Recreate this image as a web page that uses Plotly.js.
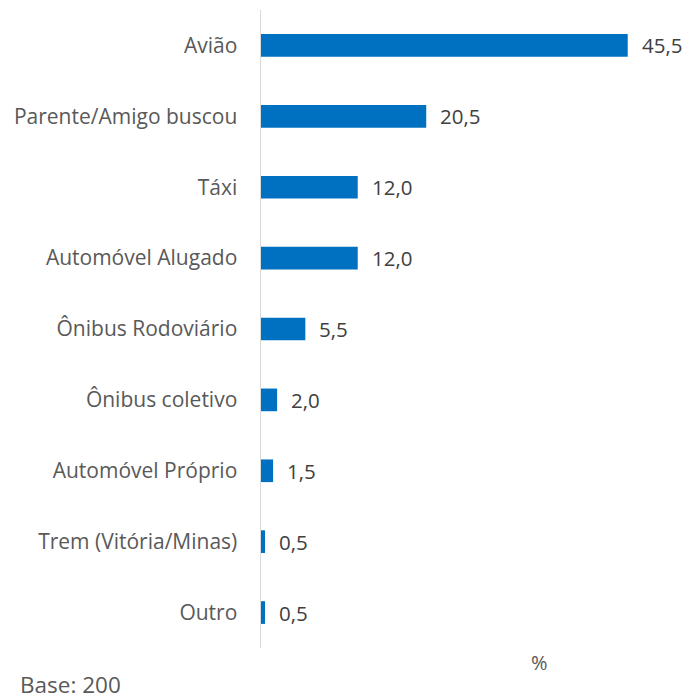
<!DOCTYPE html>
<html><head><meta charset="utf-8">
<script src="https://cdn.plot.ly/plotly-3.0.1.min.js"></script>
<style>body{margin:0;background:#fff}#c{width:689px;height:699px}</style>
</head><body><div id="c"></div>
<script>
const categories = ["Avião","Parente/Amigo buscou","Táxi","Automóvel Alugado","Ônibus Rodoviário","Ônibus coletivo","Automóvel Próprio","Trem (Vitória/Minas)","Outro"];
const values = [45.5,20.5,12.0,12.0,5.5,2.0,1.5,0.5,0.5];
const axisTitle = "%";
const baseNote = "Base: 200";

const font = "'Open Sans', sans-serif";
const trace = {
  type:'bar', orientation:'h', y:categories, x:values,
  marker:{color:'#0070c0'},
  hoverinfo:'none'
};
const valueLabels = values.map((v,i) => ({
  text: v.toFixed(1).replace('.',','), x:v, y:categories[i], xref:'x', yref:'y',
  showarrow:false, xanchor:'left', yanchor:'middle', xshift: 13, borderpad:0,
  font:{family:font, size:20.5, color:'#404040'}
}));
const layout = {
  width:689, height:699,
  margin:{l:261, r:25, t:10, b:51},
  paper_bgcolor:'#fff', plot_bgcolor:'#fff',
  bargap:0.68, showlegend:false,
  font:{family:font, color:'#595959'},
  xaxis:{range:[0,50], visible:false, fixedrange:true},
  yaxis:{autorange:'reversed', showline:true, linecolor:'#d9d9d9', linewidth:1.5,
         showgrid:false, zeroline:false, ticks:'', ticklabelstandoff:18,
         tickfont:{family:font, size:21, color:'#595959'}},
  annotations: valueLabels.concat([
    {text:axisTitle, xref:'paper', yref:'paper', x:(539-261)/403, y:-(663-648)/639, showarrow:false,
     xanchor:'center', yanchor:'middle', font:{family:font, size:20, color:'#595959'}},
    {text:baseNote, xref:'paper', yref:'paper', x:-(261-19)/403, y:-(685-648)/639, showarrow:false,
     xanchor:'left', yanchor:'middle', borderpad:0, font:{family:font, size:22.5, color:'#595959'}}
  ])
};
Plotly.newPlot('c',[trace],layout,{displayModeBar:false,staticPlot:true});
</script></body></html>
